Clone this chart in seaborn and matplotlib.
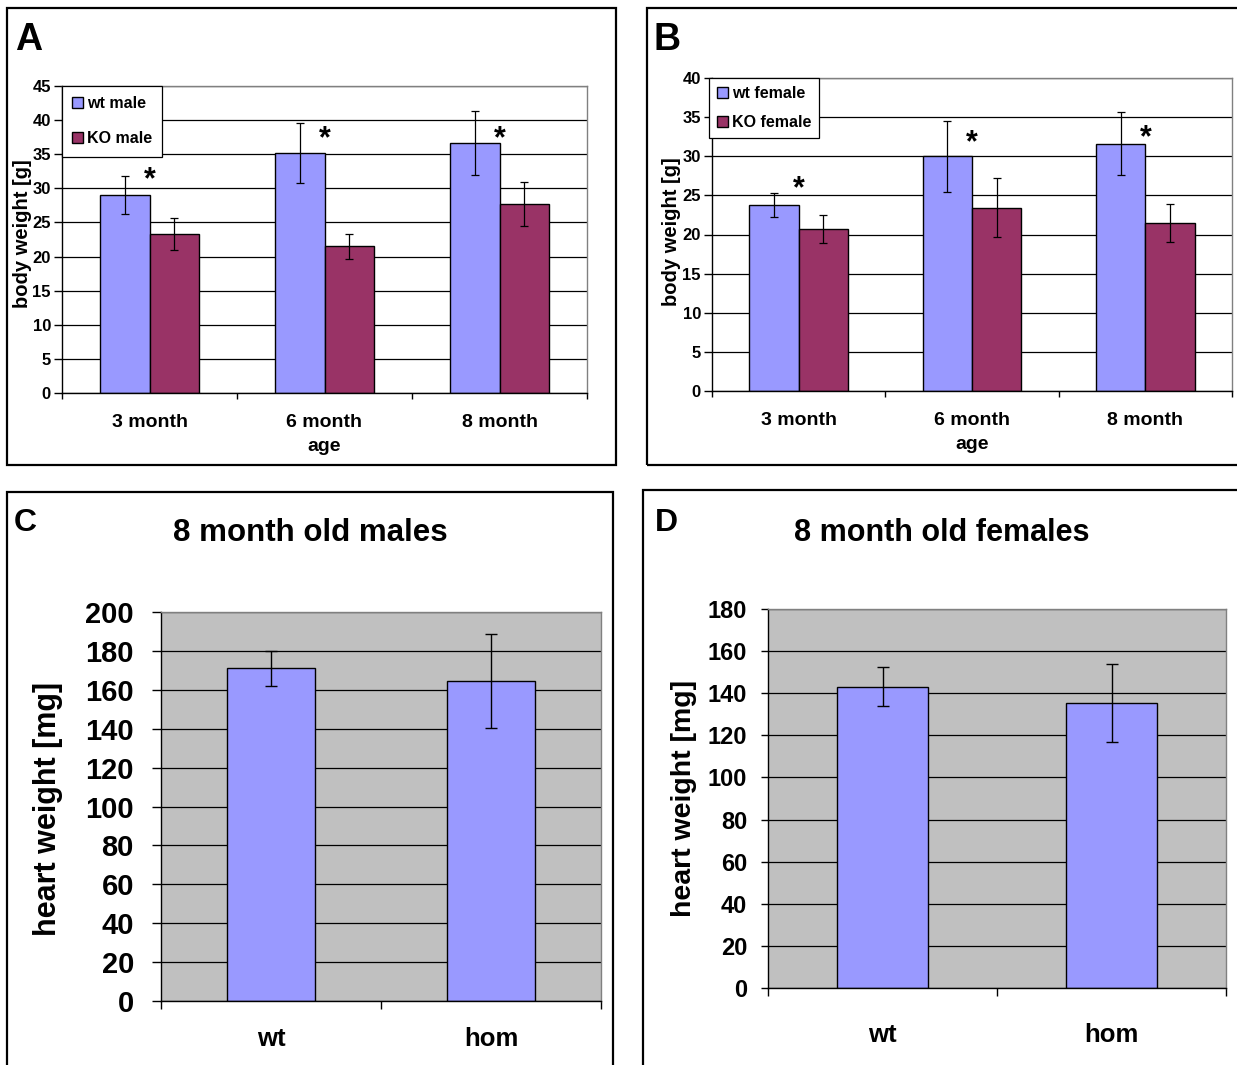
import matplotlib
matplotlib.use('Agg')
import matplotlib.pyplot as plt
import seaborn as sns
import numpy as np
import pandas as pd
from matplotlib.patches import Rectangle
from matplotlib.ticker import MultipleLocator, FixedLocator

# Data
ages = ['3 month', '6 month', '8 month']

wt_male = [29.0, 35.2, 36.7]
wt_male_err = [2.8, 4.4, 4.7]
ko_male = [23.3, 21.5, 27.7]
ko_male_err = [2.3, 1.85, 3.2]
star_male = [32.1, 38.1, 38.2]

wt_female = [23.8, 30.0, 31.6]
wt_female_err = [1.55, 4.55, 4.05]
ko_female = [20.7, 23.45, 21.5]
ko_female_err = [1.85, 3.8, 2.45]
star_female = [26.6, 32.5, 33.1]

genotypes = ['wt', 'hom']
heart_male = [171.0, 164.5]
heart_male_err = [9.0, 24.0]
heart_female = [143.0, 135.3]
heart_female_err = [9.3, 18.4]

WT_COLOR = '#9999FF'
KO_COLOR = '#993366'
BG_GRAY = '#C0C0C0'

sns.set_style("white")
plt.rcParams['font.family'] = ['Liberation Sans', 'DejaVu Sans']
plt.rcParams['font.weight'] = 'bold'
plt.rcParams['axes.labelweight'] = 'bold'
for key in ['text.color', 'axes.labelcolor', 'xtick.color', 'ytick.color']:
    plt.rcParams[key] = 'black'

W, H = 1237, 1065
fig = plt.figure(figsize=(W / 100, H / 100), dpi=100)


def ax_at(left, top, right, bottom):
    """Axes placed by pixel edges."""
    return fig.add_axes([left / W, 1 - bottom / H, (right - left) / W, (bottom - top) / H])


def frame(x0, y0, x1, y1):
    fig.patches.append(Rectangle((x0 / W, 1 - y1 / H), (x1 - x0) / W, (y1 - y0) / H,
                                 transform=fig.transFigure, fill=False,
                                 edgecolor='black', linewidth=1.6))


def style_axes(ax, ymax, ystep, n_cat, ytick_size, ylen, ypad, xtick_size, xpad, xtick_len):
    ax.set_ylim(0, ymax)
    ax.set_xlim(-0.5, n_cat - 0.5)
    ax.yaxis.set_major_locator(MultipleLocator(ystep))
    ax.grid(True, axis='y', color='black', linewidth=0.9)
    ax.grid(False, axis='x')
    ax.set_axisbelow(True)
    for side in ['top', 'right']:
        ax.spines[side].set_color('#808080')
        ax.spines[side].set_linewidth(1.0)
    for side in ['left', 'bottom']:
        ax.spines[side].set_color('black')
        ax.spines[side].set_linewidth(1.0)
    ax.tick_params(axis='y', which='major', left=True, length=ylen, width=1, direction='out',
                   labelsize=ytick_size, pad=ypad, color='black', labelcolor='black')
    ax.tick_params(axis='x', which='major', bottom=True, length=0, labelsize=xtick_size,
                   pad=xpad, labelcolor='black')
    ax.xaxis.set_minor_locator(FixedLocator(np.arange(n_cat + 1) - 0.5))
    ax.tick_params(axis='x', which='minor', bottom=True, length=xtick_len, width=1,
                   direction='out', color='black')
    for lab in ax.get_xticklabels() + ax.get_yticklabels():
        lab.set_fontweight('bold')


def body_panel(ax, wt, wt_err, ko, ko_err, stars, labels, ymax, spacing, bpad, leg_x):
    df = pd.DataFrame({
        'age': ages * 2,
        'weight': wt + ko,
        'group': [labels[0]] * 3 + [labels[1]] * 3,
    })
    sns.barplot(data=df, x='age', y='weight', hue='group', palette=[WT_COLOR, KO_COLOR],
                saturation=1, width=0.571, edgecolor='black', linewidth=1,
                errorbar=None, ax=ax)
    for cont, err in zip(ax.containers, [wt_err, ko_err]):
        xs = [p.get_x() + p.get_width() / 2 for p in cont.patches]
        ys = [p.get_height() for p in cont.patches]
        ax.errorbar(xs, ys, yerr=err, fmt='none', ecolor='black', elinewidth=0.9,
                    capsize=3, capthick=0.9, zorder=5)
    for i, s in enumerate(stars):
        ax.annotate('*', (i, s), xytext=(0, -10.5), textcoords='offset points',
                    ha='center', va='baseline', fontsize=22, fontweight='bold', color='black')
    handles, labs = ax.get_legend_handles_labels()
    leg = ax.legend(handles, labs, loc='upper left', bbox_to_anchor=(leg_x, 1), borderaxespad=0,
                    frameon=True, fancybox=False, framealpha=1, edgecolor='black',
                    handlelength=0.65, handleheight=0.65, handletextpad=0.25,
                    labelspacing=spacing, borderpad=bpad,
                    prop={'weight': 'bold', 'size': 11.5})
    leg.get_frame().set_linewidth(0.9)
    for t in leg.get_texts():
        t.set_color('black')
    style_axes(ax, ymax, 5, 3, 12, 6, 2, 14, 15, 4.5)
    ax.set_xlabel('age', fontsize=14, fontweight='bold')
    ax.set_ylabel('body weight [g]', fontsize=14.5, fontweight='bold')


def heart_panel(ax, vals, errs, ymax, ytick_size, ylen, ypad, xpad):
    sns.barplot(x=genotypes, y=vals, color=WT_COLOR, saturation=1, width=0.4,
                edgecolor='black', linewidth=1, errorbar=None, ax=ax)
    cont = ax.containers[0]
    xs = [p.get_x() + p.get_width() / 2 for p in cont.patches]
    ys = [p.get_height() for p in cont.patches]
    ax.errorbar(xs, ys, yerr=errs, fmt='none', ecolor='black', elinewidth=1,
                capsize=4, capthick=1, zorder=5)
    ax.set_facecolor(BG_GRAY)
    style_axes(ax, ymax, 20, 2, ytick_size, ylen, ypad, 18.5, xpad, 5.5)
    ax.set_xlabel('')


# Panel A
frame(7, 8, 616, 465)
axA = ax_at(62, 86, 587, 393)
body_panel(axA, wt_male, wt_male_err, ko_male, ko_male_err, star_male,
           ['wt male', 'KO male'], 45, 1.25, 0.65, 0)
axA.xaxis.set_label_coords(0.5, -0.148)
axA.yaxis.set_label_coords(-0.058, 0.52)
fig.text(15 / W, 1 - 50 / H, 'A', fontsize=27, fontweight='bold', va='baseline')

# Panel B
frame(647, 8, 1250, 465)
axB = ax_at(712, 78, 1232, 391)
body_panel(axB, wt_female, wt_female_err, ko_female, ko_female_err, star_female,
           ['wt female', 'KO female'], 40, 0.9, 0.5, -0.005)
axB.xaxis.set_label_coords(0.5, -0.145)
axB.yaxis.set_label_coords(-0.06, 0.51)
fig.text(654 / W, 1 - 50 / H, 'B', fontsize=27, fontweight='bold', va='baseline')

# Panel C
frame(7, 492, 613, 1080)
axC = ax_at(161, 612, 601, 1001)
heart_panel(axC, heart_male, heart_male_err, 200, 21, 6.5, 13, 19)
axC.set_ylabel('heart weight [mg]', fontsize=22, fontweight='bold')
axC.yaxis.set_label_coords(-0.222, 0.494)
fig.text(14 / W, 1 - 531 / H, 'C', fontsize=23, fontweight='bold', va='baseline')
fig.text(310 / W, 1 - 541 / H, '8 month old males', fontsize=22.5, fontweight='bold',
         ha='center', va='baseline')

# Panel D
frame(643, 490, 1250, 1080)
axD = ax_at(768, 609, 1226, 988)
heart_panel(axD, heart_female, heart_female_err, 180, 17, 5, 10, 25)
axD.set_ylabel('heart weight [mg]', fontsize=20.5, fontweight='bold')
axD.yaxis.set_label_coords(-0.155, 0.5)
fig.text(655 / W, 1 - 531 / H, 'D', fontsize=23, fontweight='bold', va='baseline')
fig.text(942 / W, 1 - 541 / H, '8 month old females', fontsize=22, fontweight='bold',
         ha='center', va='baseline')

fig.savefig('out.png', dpi=100, facecolor='white')
